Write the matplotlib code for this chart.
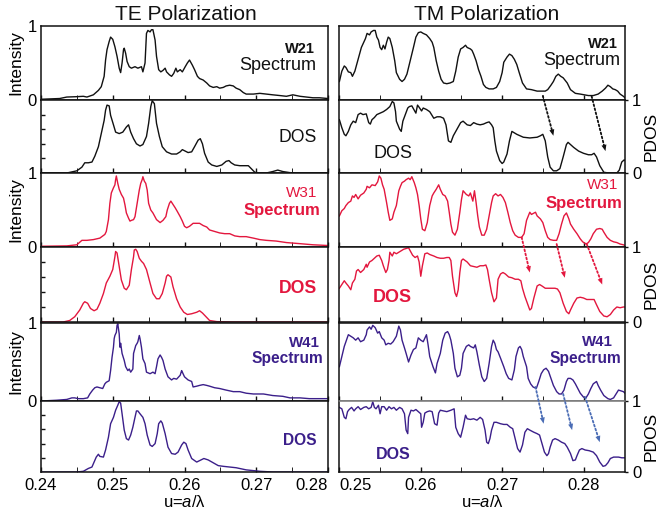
import matplotlib
matplotlib.use('Agg')
import matplotlib.pyplot as plt
from matplotlib.patches import ConnectionPatch

plt.rcParams['font.family'] = ['Liberation Sans', 'DejaVu Sans']
plt.rcParams['mathtext.fontset'] = 'custom'
plt.rcParams['mathtext.it'] = 'Liberation Sans:italic'
plt.rcParams['mathtext.rm'] = 'Liberation Sans'

BLACK = '#111111'
RED = '#e3173e'
PURPLE = '#3b1f8a'
ARROW_BLUE = '#4a6cb5'

# ---- data: (u = a/lambda, normalised value) ----

# TE, W21
te_w21_spec = [(.2400,.01),(.2426,.02),(.2436,.04),(.2450,.045),(.2459,.05),(.2464,.04),(.2473,.07),(.2480,.13),
    (.2484,.18),(.2488,.32),(.2490,.54),(.2492,.68),(.2495,.79),(.2497,.85),(.2500,.82),(.2503,.72),(.2506,.59),
    (.2509,.43),(.2511,.37),(.2513,.50),(.2515,.68),(.2516,.70),(.2518,.63),(.2520,.52),(.2523,.45),(.2526,.43),
    (.2531,.45),(.2535,.43),(.2540,.45),(.2542,.38),(.2545,.50),(.2547,.90),(.2549,.94),(.2552,.92),(.2554,.95),
    (.2556,.95),(.2559,.81),(.2561,.59),(.2564,.41),(.2567,.38),(.2570,.40),(.2573,.43),(.2575,.38),(.2579,.34),
    (.2582,.32),(.2585,.36),(.2588,.43),(.2590,.38),(.2594,.41),(.2597,.38),(.2601,.45),(.2604,.50),(.2607,.54),
    (.2611,.47),(.2614,.41),(.2618,.32),(.2621,.29),(.2626,.27),(.2631,.23),(.2635,.19),(.2640,.17),(.2645,.18),
    (.2649,.16),(.2654,.17),(.2658,.19),(.2663,.20),(.2668,.19),(.2672,.16),(.2677,.14),(.2682,.10),(.2686,.08),
    (.2696,.08),(.2705,.09),(.2714,.08),(.2723,.07),(.2733,.06),(.2742,.05),(.2751,.07),(.2761,.05),(.2770,.04),
    (.2779,.03),(.2788,.03),(.2800,.02)]
te_w21_dos = [(.2400,0),(.2436,0),(.2450,.03),(.2457,.08),(.2461,.14),(.2466,.14),(.2471,.15),(.2475,.23),
    (.2480,.36),(.2484,.54),(.2488,.72),(.2490,.86),(.2492,.93),(.2495,.92),(.2497,.79),(.2501,.66),(.2504,.56),
    (.2509,.54),(.2514,.56),(.2519,.63),(.2522,.66),(.2525,.56),(.2529,.47),(.2533,.40),(.2538,.37),(.2542,.39),
    (.2547,.50),(.2550,.68),(.2553,.91),(.2555,.99),(.2558,.95),(.2561,.68),(.2565,.50),(.2569,.36),(.2575,.29),
    (.2582,.26),(.2589,.26),(.2594,.29),(.2597,.32),(.2601,.30),(.2605,.28),(.2610,.29),(.2614,.36),(.2619,.45),
    (.2622,.47),(.2625,.40),(.2628,.27),(.2633,.15),(.2638,.11),(.2645,.09),(.2652,.11),(.2658,.16),(.2662,.17),
    (.2665,.14),(.2670,.11),(.2677,.10),(.2684,.10),(.2689,.10),(.2693,.06),(.2698,.01),(.2705,0),(.2714,0),
    (.2723,.02),(.2730,.04),(.2737,.02),(.2747,.005),(.2761,0),(.2800,0)]

# TE, W31
te_w31_spec = [(.2400,.01),(.2436,.015),(.2450,.03),(.2457,.09),(.2464,.09),(.2473,.10),(.2482,.12),(.2489,.17),
    (.2491,.21),(.2494,.37),(.2496,.59),(.2498,.73),(.2501,.80),(.2503,.84),(.2504,.91),(.2505,.96),(.2507,.86),
    (.2509,.78),(.2512,.71),(.2515,.66),(.2517,.57),(.2519,.46),(.2522,.39),(.2524,.35),(.2526,.36),(.2529,.37),
    (.2531,.41),(.2534,.59),(.2537,.77),(.2539,.86),(.2541,.91),(.2542,.95),(.2544,.89),(.2546,.86),(.2548,.77),
    (.2550,.59),(.2553,.50),(.2556,.46),(.2561,.37),(.2566,.33),(.2570,.36),(.2574,.41),(.2576,.50),(.2579,.59),
    (.2581,.62),(.2583,.59),(.2587,.53),(.2590,.48),(.2594,.41),(.2597,.35),(.2600,.28),(.2603,.26),(.2607,.28),
    (.2612,.32),(.2617,.32),(.2621,.32),(.2626,.29),(.2631,.27),(.2635,.23),(.2642,.21),(.2649,.19),(.2656,.18),
    (.2663,.18),(.2670,.15),(.2677,.14),(.2686,.14),(.2696,.12),(.2705,.10),(.2714,.09),(.2728,.08),(.2742,.06),
    (.2761,.045),(.2779,.03),(.2800,.02)]
te_w31_dos = [(.2400,0),(.2431,0),(.2440,.02),(.2447,.07),(.2454,.16),(.2459,.25),(.2461,.27),(.2465,.25),
    (.2469,.18),(.2474,.15),(.2478,.17),(.2482,.25),(.2487,.38),(.2491,.52),(.2496,.61),(.2500,.70),(.2503,.87),
    (.2504,.94),(.2506,.92),(.2509,.74),(.2512,.56),(.2516,.45),(.2519,.43),(.2523,.49),(.2526,.70),(.2529,.87),
    (.2530,.96),(.2532,.97),(.2534,.94),(.2537,.85),(.2540,.81),(.2543,.78),(.2547,.70),(.2552,.52),(.2556,.38),
    (.2561,.31),(.2565,.31),(.2569,.38),(.2573,.52),(.2575,.61),(.2577,.63),(.2581,.60),(.2584,.47),(.2589,.31),
    (.2594,.20),(.2599,.13),(.2604,.10),(.2610,.11),(.2617,.13),(.2621,.15),(.2625,.12),(.2630,.07),(.2635,.02),
    (.2645,.005),(.2668,0),(.2800,0)]

# TE, W41
te_w41_spec = [(.2400,0),(.2422,.01),(.2436,.02),(.2443,.04),(.2447,.04),(.2452,.03),(.2459,.03),(.2465,.04),
    (.2468,.09),(.2472,.14),(.2475,.17),(.2478,.18),(.2482,.17),(.2486,.16),(.2489,.22),(.2491,.24),(.2495,.26),
    (.2497,.39),(.2499,.56),(.2501,.69),(.2502,.80),(.2503,.84),(.2505,.88),(.2506,.97),(.2507,.99),(.2509,.86),
    (.2510,.69),(.2511,.74),(.2513,.61),(.2516,.52),(.2518,.44),(.2521,.39),(.2523,.41),(.2525,.37),(.2528,.41),
    (.2529,.61),(.2532,.71),(.2534,.74),(.2535,.76),(.2537,.84),(.2538,.80),(.2540,.69),(.2542,.54),(.2545,.48),
    (.2547,.37),(.2552,.35),(.2556,.37),(.2559,.35),(.2561,.44),(.2563,.54),(.2566,.59),(.2568,.56),(.2570,.52),
    (.2573,.41),(.2577,.31),(.2582,.27),(.2585,.29),(.2589,.28),(.2594,.33),(.2596,.39),(.2597,.37),(.2600,.31),
    (.2605,.27),(.2610,.25),(.2612,.18),(.2617,.19),(.2621,.20),(.2626,.21),(.2631,.20),(.2635,.19),(.2642,.17),
    (.2649,.16),(.2658,.14),(.2668,.12),(.2677,.12),(.2686,.10),(.2696,.09),(.2710,.09),(.2723,.07),(.2737,.06),
    (.2747,.04),(.2761,.04),(.2774,.03),(.2788,.03),(.2800,.03)]
te_w41_dos = [(.2400,0),(.2450,0),(.2459,.01),(.2466,.05),(.2471,.07),(.2474,.14),(.2477,.21),(.2480,.25),
    (.2482,.22),(.2487,.21),(.2490,.31),(.2494,.49),(.2497,.68),(.2501,.77),(.2504,.87),(.2507,.94),(.2509,.99),
    (.2511,.97),(.2513,.82),(.2516,.59),(.2519,.47),(.2522,.45),(.2525,.52),(.2528,.63),(.2531,.77),(.2533,.86),
    (.2535,.86),(.2538,.82),(.2542,.77),(.2545,.68),(.2548,.52),(.2552,.38),(.2555,.36),(.2559,.40),(.2562,.54),
    (.2564,.68),(.2567,.72),(.2569,.69),(.2573,.54),(.2577,.35),(.2582,.26),(.2587,.25),(.2591,.28),(.2596,.38),
    (.2599,.42),(.2602,.40),(.2605,.31),(.2610,.19),(.2617,.14),(.2621,.16),(.2627,.19),(.2633,.17),(.2640,.13),
    (.2647,.09),(.2654,.08),(.2663,.07),(.2672,.06),(.2686,.03),(.2705,.01),(.2723,0),(.2800,0)]

# TM, W21
tm_w21_spec = [(.2500,.25),(.2503,.39),(.2506,.46),(.2508,.44),(.2511,.38),(.2514,.37),(.2516,.32),(.2519,.39),
    (.2523,.55),(.2527,.71),(.2532,.83),(.2534,.90),(.2537,.88),(.2539,.92),(.2542,.94),(.2544,.94),(.2546,.85),
    (.2548,.81),(.2550,.71),(.2552,.68),(.2554,.74),(.2556,.69),(.2558,.78),(.2560,.85),(.2562,.83),(.2565,.71),
    (.2568,.53),(.2570,.37),(.2574,.28),(.2577,.25),(.2580,.28),(.2583,.35),(.2587,.53),(.2591,.71),(.2594,.85),
    (.2597,.91),(.2600,.92),(.2603,.90),(.2607,.88),(.2611,.83),(.2614,.78),(.2616,.71),(.2619,.53),(.2622,.39),
    (.2625,.28),(.2628,.23),(.2632,.22),(.2636,.23),(.2640,.25),(.2643,.39),(.2646,.58),(.2649,.69),(.2652,.71),
    (.2655,.74),(.2657,.71),(.2661,.69),(.2663,.67),(.2665,.62),(.2668,.53),(.2671,.41),(.2674,.32),(.2677,.21),
    (.2680,.17),(.2684,.15),(.2689,.15),(.2693,.17),(.2697,.25),(.2700,.37),(.2702,.51),(.2706,.58),(.2709,.62),
    (.2712,.60),(.2715,.55),(.2718,.48),(.2721,.37),(.2725,.23),(.2730,.15),(.2736,.14),(.2743,.12),(.2749,.12),
    (.2753,.12),(.2756,.14),(.2760,.20),(.2763,.25),(.2766,.32),(.2769,.35),(.2772,.32),(.2775,.30),(.2780,.23),
    (.2784,.14),(.2790,.09),(.2796,.08),(.2801,.07),(.2806,.06),(.2812,.06),(.2818,.08),(.2823,.12),(.2827,.16),
    (.2830,.20),(.2833,.18),(.2836,.15),(.2839,.14),(.2842,.12),(.2845,.08),(.2849,.05),(.2851,.03)]
tm_w21_dos = [(.2500,.73),(.2503,.62),(.2506,.53),(.2508,.51),(.2511,.57),(.2514,.66),(.2517,.71),(.2520,.69),
    (.2523,.80),(.2526,.82),(.2529,.80),(.2533,.81),(.2536,.69),(.2538,.67),(.2540,.73),(.2543,.76),(.2546,.80),
    (.2550,.82),(.2554,.84),(.2558,.87),(.2562,.91),(.2565,.98),(.2567,.96),(.2569,.84),(.2570,.71),(.2574,.60),
    (.2576,.57),(.2578,.71),(.2581,.80),(.2584,.89),(.2586,.91),(.2589,.92),(.2592,.86),(.2594,.82),(.2596,.93),
    (.2598,.90),(.2601,.85),(.2603,.89),(.2607,.87),(.2611,.84),(.2616,.75),(.2620,.77),(.2624,.77),(.2628,.75),
    (.2631,.66),(.2634,.44),(.2637,.42),(.2640,.51),(.2643,.57),(.2646,.63),(.2649,.69),(.2652,.71),(.2657,.66),
    (.2661,.65),(.2665,.69),(.2669,.67),(.2673,.66),(.2677,.67),(.2681,.69),(.2684,.70),(.2687,.66),(.2689,.62),
    (.2691,.44),(.2693,.30),(.2697,.17),(.2700,.13),(.2702,.15),(.2706,.26),(.2709,.44),(.2712,.57),(.2715,.55),
    (.2718,.53),(.2722,.51),(.2726,.49),(.2734,.48),(.2743,.49),(.2747,.51),(.2750,.53),(.2753,.44),(.2756,.22),
    (.2759,.08),(.2763,.03),(.2767,.03),(.2771,.06),(.2775,.22),(.2779,.39),(.2781,.42),(.2784,.39),(.2788,.35),
    (.2794,.30),(.2800,.27),(.2806,.25),(.2810,.25),(.2813,.27),(.2816,.22),(.2820,.10),(.2825,.01),(.2831,0),
    (.2837,0),(.2841,0),(.2844,.04),(.2847,.15),(.2850,.18),(.2851,.17)]

# TM, W31
tm_w31_spec = [(.2500,.42),(.2503,.49),(.2506,.52),(.2508,.56),(.2511,.60),(.2514,.62),(.2516,.69),(.2518,.67),
    (.2520,.71),(.2523,.65),(.2526,.70),(.2530,.73),(.2533,.78),(.2534,.82),(.2537,.80),(.2540,.84),(.2544,.83),
    (.2547,.88),(.2549,.96),(.2551,.93),(.2553,.84),(.2555,.78),(.2558,.60),(.2560,.47),(.2562,.36),(.2565,.38),
    (.2567,.47),(.2570,.56),(.2573,.76),(.2575,.82),(.2577,.87),(.2580,.89),(.2582,.91),(.2585,.93),(.2587,.91),
    (.2589,.95),(.2592,.87),(.2594,.80),(.2596,.71),(.2598,.56),(.2600,.38),(.2602,.24),(.2605,.22),(.2608,.33),
    (.2611,.56),(.2614,.69),(.2616,.73),(.2619,.78),(.2622,.84),(.2624,.78),(.2627,.71),(.2630,.69),(.2633,.62),
    (.2635,.47),(.2637,.31),(.2639,.20),(.2642,.16),(.2645,.24),(.2648,.47),(.2650,.64),(.2652,.76),(.2656,.71),
    (.2659,.69),(.2661,.73),(.2664,.62),(.2666,.76),(.2668,.60),(.2670,.42),(.2672,.27),(.2675,.16),(.2678,.16),
    (.2681,.24),(.2684,.42),(.2687,.60),(.2689,.69),(.2692,.72),(.2695,.69),(.2698,.71),(.2701,.67),(.2704,.60),
    (.2707,.47),(.2710,.33),(.2713,.22),(.2716,.16),(.2720,.13),(.2724,.13),(.2727,.18),(.2730,.36),(.2734,.47),
    (.2736,.44),(.2741,.47),(.2743,.42),(.2747,.38),(.2750,.33),(.2753,.22),(.2756,.13),(.2759,.10),(.2763,.09),
    (.2767,.09),(.2770,.18),(.2773,.31),(.2776,.42),(.2779,.46),(.2782,.38),(.2784,.31),(.2788,.24),(.2792,.18),
    (.2796,.11),(.2799,.07),(.2803,.04),(.2806,.06),(.2809,.11),(.2812,.18),(.2816,.24),(.2820,.25),(.2823,.24),
    (.2825,.20),(.2829,.13),(.2833,.09),(.2837,.07),(.2841,.06),(.2845,.04),(.2849,.03),(.2851,.02)]
tm_w31_dos = [(.2500,.45),(.2503,.50),(.2506,.55),(.2508,.52),(.2511,.48),(.2514,.43),(.2516,.52),(.2519,.57),
    (.2521,.68),(.2523,.70),(.2526,.66),(.2530,.70),(.2533,.77),(.2534,.73),(.2537,.80),(.2540,.82),(.2543,.85),
    (.2546,.88),(.2549,.89),(.2552,.82),(.2554,.75),(.2557,.66),(.2559,.70),(.2561,.82),(.2562,.93),(.2565,.88),
    (.2567,.93),(.2570,.91),(.2573,.93),(.2576,.95),(.2579,.97),(.2582,.98),(.2585,.99),(.2587,.95),(.2590,.89),
    (.2593,.86),(.2596,.88),(.2598,.80),(.2600,.61),(.2602,.75),(.2605,.91),(.2608,.92),(.2611,.90),(.2616,.88),
    (.2620,.86),(.2624,.85),(.2628,.85),(.2632,.86),(.2635,.86),(.2637,.82),(.2639,.61),(.2642,.39),(.2644,.34),
    (.2646,.43),(.2648,.66),(.2650,.82),(.2652,.84),(.2657,.80),(.2661,.75),(.2665,.74),(.2669,.73),(.2673,.75),
    (.2677,.75),(.2680,.76),(.2682,.70),(.2684,.57),(.2687,.39),(.2690,.27),(.2693,.32),(.2695,.57),(.2698,.64),
    (.2701,.66),(.2704,.64),(.2708,.60),(.2712,.59),(.2716,.57),(.2720,.57),(.2723,.55),(.2725,.45),(.2728,.34),
    (.2731,.25),(.2734,.16),(.2736,.18),(.2739,.32),(.2743,.48),(.2746,.50),(.2749,.48),(.2753,.45),(.2757,.45),
    (.2761,.45),(.2765,.45),(.2768,.44),(.2771,.39),(.2775,.25),(.2779,.14),(.2782,.11),(.2784,.16),(.2788,.25),
    (.2792,.32),(.2796,.33),(.2800,.32),(.2804,.30),(.2809,.30),(.2813,.30),(.2816,.23),(.2820,.14),(.2825,.08),
    (.2829,.07),(.2833,.10),(.2837,.16),(.2841,.20),(.2845,.19),(.2849,.20),(.2851,.20)]

# TM, W41
tm_w41_spec = [(.2500,.44),(.2503,.57),(.2506,.70),(.2508,.76),(.2511,.85),(.2514,.83),(.2517,.81),(.2520,.78),
    (.2523,.81),(.2526,.76),(.2530,.78),(.2533,.85),(.2534,.91),(.2537,.95),(.2539,.92),(.2541,.97),(.2544,.94),
    (.2547,.87),(.2549,.89),(.2552,.81),(.2555,.78),(.2557,.72),(.2560,.74),(.2563,.73),(.2566,.76),(.2570,.83),
    (.2573,.96),(.2575,.91),(.2577,.78),(.2580,.68),(.2582,.61),(.2585,.50),(.2588,.59),(.2591,.66),(.2594,.68),
    (.2597,.81),(.2600,.78),(.2603,.76),(.2607,.85),(.2609,.72),(.2611,.57),(.2615,.44),(.2618,.36),(.2620,.48),
    (.2624,.61),(.2627,.78),(.2630,.87),(.2633,.89),(.2635,.85),(.2637,.78),(.2640,.61),(.2642,.42),(.2645,.31),
    (.2648,.33),(.2650,.42),(.2652,.61),(.2656,.70),(.2659,.72),(.2661,.70),(.2665,.68),(.2667,.72),(.2669,.63),
    (.2672,.46),(.2675,.31),(.2678,.25),(.2681,.29),(.2684,.48),(.2687,.70),(.2689,.78),(.2691,.74),(.2693,.66),
    (.2695,.63),(.2698,.55),(.2702,.44),(.2705,.35),(.2708,.29),(.2712,.27),(.2715,.40),(.2717,.57),(.2720,.68),
    (.2722,.70),(.2724,.66),(.2726,.57),(.2730,.44),(.2732,.29),(.2735,.22),(.2738,.18),(.2742,.16),(.2745,.25),
    (.2748,.35),(.2751,.40),(.2754,.42),(.2757,.38),(.2760,.29),(.2763,.20),(.2767,.12),(.2770,.09),(.2773,.09),
    (.2776,.14),(.2779,.25),(.2781,.29),(.2784,.29),(.2787,.27),(.2790,.22),(.2793,.16),(.2796,.10),(.2800,.05),
    (.2803,.04),(.2806,.09),(.2809,.16),(.2812,.22),(.2816,.25),(.2818,.20),(.2821,.14),(.2825,.07),(.2830,.03),
    (.2833,.02),(.2837,.04),(.2840,.09),(.2843,.14),(.2846,.13),(.2849,.12),(.2851,.10)]
tm_w41_dos = [(.2500,.91),(.2503,.89),(.2506,.77),(.2508,.75),(.2510,.85),(.2512,.88),(.2515,.91),(.2518,.86),
    (.2520,.89),(.2523,.92),(.2526,.88),(.2530,.91),(.2533,.92),(.2536,.89),(.2539,.91),(.2541,.99),(.2543,.91),
    (.2545,.89),(.2548,.94),(.2550,.82),(.2552,.92),(.2555,.92),(.2558,.87),(.2561,.92),(.2564,.89),(.2567,.91),
    (.2570,.87),(.2574,.91),(.2577,.89),(.2580,.82),(.2582,.59),(.2584,.54),(.2585,.77),(.2588,.87),(.2591,.86),
    (.2594,.88),(.2597,.85),(.2600,.82),(.2601,.63),(.2603,.70),(.2605,.83),(.2608,.85),(.2611,.86),(.2614,.85),
    (.2617,.68),(.2620,.66),(.2622,.83),(.2624,.87),(.2628,.86),(.2632,.85),(.2637,.87),(.2641,.89),(.2643,.63),
    (.2646,.54),(.2649,.49),(.2652,.63),(.2655,.80),(.2657,.75),(.2661,.74),(.2665,.75),(.2669,.73),(.2673,.77),
    (.2676,.74),(.2679,.59),(.2681,.42),(.2683,.40),(.2685,.47),(.2687,.59),(.2690,.70),(.2693,.70),(.2698,.68),
    (.2702,.67),(.2706,.67),(.2710,.63),(.2713,.61),(.2716,.47),(.2719,.33),(.2722,.28),(.2725,.38),(.2728,.56),
    (.2731,.61),(.2734,.59),(.2739,.56),(.2743,.54),(.2746,.52),(.2749,.40),(.2752,.28),(.2755,.23),(.2757,.26),
    (.2759,.35),(.2762,.45),(.2765,.47),(.2769,.45),(.2773,.42),(.2777,.40),(.2780,.35),(.2784,.26),(.2787,.16),
    (.2790,.17),(.2792,.23),(.2795,.31),(.2798,.33),(.2802,.31),(.2807,.30),(.2812,.28),(.2816,.23),(.2820,.14),
    (.2824,.08),(.2827,.09),(.2830,.13),(.2833,.19),(.2837,.21),(.2843,.21),(.2847,.20),(.2851,.20)]

# dotted arrows: (u, value in spectrum panel) -> (u, value in PDOS panel)
w21_arrows = [(.2750, .055, .2763, .51), (.2810, .05, .2827, .30)]
w31_arrows = [(.2724, .13, .2734, .66), (.2767, .04, .2777, .59), (.2804, .04, .2823, .50)]
w41_arrows = [(.2741, .18, .2751, .68), (.2775, .09, .2786, .59), (.2802, .05, .2820, .42)]

te_ticks = [0.24, 0.25, 0.26, 0.27, 0.28]
te_minor = [0.245, 0.255, 0.265, 0.275]
tm_ticks = [0.25, 0.26, 0.27, 0.28]
tm_minor = [0.255, 0.265, 0.275]

groups = [
    dict(name='W21', color=BLACK, arrow_color=BLACK, name_w='bold', name_fs=10.5,
         spec_w='normal', spec_fs=13, dos_w='normal', dos_fs=12.7,
         te=(te_w21_spec, te_w21_dos), tm=(tm_w21_spec, tm_w21_dos), arrows=w21_arrows,
         te_pos=(0.955, 0.69, 0.958, 0.47, 0.962, 0.48), tm_pos=(0.975, 0.76, 0.982, 0.54, 0.186, 0.27)),
    dict(name='W31', color=RED, arrow_color=RED, name_w='normal', name_fs=11,
         spec_w='bold', spec_fs=12, dos_w='bold', dos_fs=12.7,
         te=(te_w31_spec, te_w31_dos), tm=(tm_w31_spec, tm_w31_dos), arrows=w31_arrows,
         te_pos=(0.962, 0.73, 0.972, 0.50, 0.962, 0.45), tm_pos=(0.975, 0.84, 0.99, 0.59, 0.186, 0.33)),
    dict(name='W41', color=PURPLE, arrow_color=ARROW_BLUE, name_w='bold', name_fs=10.8,
         spec_w='bold', spec_fs=11.2, dos_w='bold', dos_fs=11.2,
         te=(te_w41_spec, te_w41_dos), tm=(tm_w41_spec, tm_w41_dos), arrows=w41_arrows,
         te_pos=(0.972, 0.74, 0.983, 0.54, 0.962, 0.45), tm_pos=(0.958, 0.76, 0.986, 0.55, 0.19, 0.24)),
]

W, H = 663.0, 509.0
fig = plt.figure(figsize=(6.63, 5.09), dpi=100)

row_px = [(26, 100), (100, 173), (173, 247), (247, 322), (323, 401), (401, 472)]
col_px = [(41, 328), (339.4, 625)]


def make_ax(col, row):
    x0, x1 = col_px[col]
    y0, y1 = row_px[row]
    ax = fig.add_axes([x0 / W, 1 - y1 / H, (x1 - x0) / W, (y1 - y0) / H])
    ax.set_ylim(0, 1)
    for s in ax.spines.values():
        s.set_linewidth(1.1)
        s.set_color(BLACK)
    ax.tick_params(axis='both', labelsize=12, width=1.0, color=BLACK)
    return ax


def set_x(ax, col, bottom):
    if col == 0:
        ax.set_xlim(0.24, 0.28)
        ax.set_xticks(te_ticks, [str(t) for t in te_ticks])
        ax.set_xticks(te_minor, minor=True)
    else:
        ax.set_xlim(0.25, 0.2851)
        ax.set_xticks(tm_ticks, [str(t) for t in tm_ticks])
        ax.set_xticks(tm_minor, minor=True)
    ax.tick_params(axis='x', which='both', direction='in', length=3.5, top=False,
                   labelbottom=bottom, pad=4)
    if bottom:
        labels = ax.get_xticklabels()
        if col == 0:
            labels[-1].set_horizontalalignment('right')
        else:
            labels[0].set_horizontalalignment('left')
        ax.set_xlabel(r'u=$\mathit{a}$/λ', fontsize=12, labelpad=1)


for g_i, g in enumerate(groups):
    r_spec, r_dos = 2 * g_i, 2 * g_i + 1
    bottom = (g_i == len(groups) - 1)

    # TE column
    ax_s = make_ax(0, r_spec)
    ax_d = make_ax(0, r_dos)
    for ax, data in ((ax_s, g['te'][0]), (ax_d, g['te'][1])):
        u = [p[0] for p in data]
        v = [p[1] for p in data]
        ax.plot(u, v, color=g['color'], lw=1.0)
    set_x(ax_s, 0, False)
    set_x(ax_d, 0, bottom)
    ax_s.set_yticks([0, 1], ['0', '1'])
    ax_s.tick_params(axis='y', length=0, pad=3)
    ax_s.set_ylabel('Intensity', fontsize=12.5)
    ax_s.yaxis.set_label_coords(-0.062, 0.5)
    ax_d.set_yticks([0.2, 0.4, 0.6, 0.8])
    ax_d.tick_params(axis='y', direction='in', length=3, labelleft=False)

    p = g['te_pos']
    ax_s.text(p[0], p[1], g['name'], transform=ax_s.transAxes, ha='right', va='center',
              color=g['color'], fontsize=g['name_fs'], fontweight=g['name_w'])
    ax_s.text(p[2], p[3], 'Spectrum', transform=ax_s.transAxes, ha='right', va='center',
              color=g['color'], fontsize=g['spec_fs'], fontweight=g['spec_w'])
    ax_d.text(p[4], p[5], 'DOS', transform=ax_d.transAxes, ha='right', va='center',
              color=g['color'], fontsize=g['dos_fs'], fontweight=g['dos_w'])

    # TM column
    bx_s = make_ax(1, r_spec)
    bx_d = make_ax(1, r_dos)
    for ax, data in ((bx_s, g['tm'][0]), (bx_d, g['tm'][1])):
        u = [p_[0] for p_ in data]
        v = [p_[1] for p_ in data]
        ax.plot(u, v, color=g['color'], lw=1.0)
    set_x(bx_s, 1, False)
    set_x(bx_d, 1, bottom)
    bx_s.set_yticks([])
    bx_d.yaxis.tick_right()
    bx_d.yaxis.set_label_position('right')
    bx_d.set_yticks([0, 1], ['0', '1'])
    bx_d.tick_params(axis='y', length=2, pad=3)
    bx_d.set_ylabel('PDOS', fontsize=12.5, rotation=90)
    bx_d.yaxis.set_label_coords(1.065, 0.5)
    if g['name'] == 'W41':
        bx_s.spines['bottom'].set_color('#777777')
        bx_d.spines['top'].set_color('#777777')

    p = g['tm_pos']
    bx_s.text(p[0], p[1], g['name'], transform=bx_s.transAxes, ha='right', va='center',
              color=g['color'], fontsize=g['name_fs'], fontweight=g['name_w'])
    bx_s.text(p[2], p[3], 'Spectrum', transform=bx_s.transAxes, ha='right', va='center',
              color=g['color'], fontsize=g['spec_fs'], fontweight=g['spec_w'])
    bx_d.text(p[4], p[5], 'DOS', transform=bx_d.transAxes, ha='center', va='center',
              color=g['color'], fontsize=g['dos_fs'] + 0.3, fontweight=g['dos_w'])

    for (u0, v0, u1, v1) in g['arrows']:
        # dotted shaft, then a small solid head
        shaft = ConnectionPatch(xyA=(u0, v0), coordsA='data', axesA=bx_s,
                                xyB=(u1, v1), coordsB='data', axesB=bx_d,
                                arrowstyle='-', linestyle=(0, (1.0, 1.3)), lw=1.3,
                                color=g['arrow_color'], shrinkA=0, shrinkB=3)
        fig.add_artist(shaft)
        head = ConnectionPatch(xyA=(u0, v0), coordsA='data', axesA=bx_s,
                               xyB=(u1, v1), coordsB='data', axesB=bx_d,
                               arrowstyle='-|>,head_length=0.45,head_width=0.18', linestyle='-', lw=0.0,
                               color=g['arrow_color'], mutation_scale=10,
                               shrinkA=0, shrinkB=0)
        fig.add_artist(head)

fig.text(186 / W, 1 - 15 / H, 'TE Polarization', ha='center', va='center', fontsize=15, color=BLACK)
fig.text(487 / W, 1 - 15 / H, 'TM Polarization', ha='center', va='center', fontsize=15, color=BLACK)

fig.savefig('out.png', dpi=100)
